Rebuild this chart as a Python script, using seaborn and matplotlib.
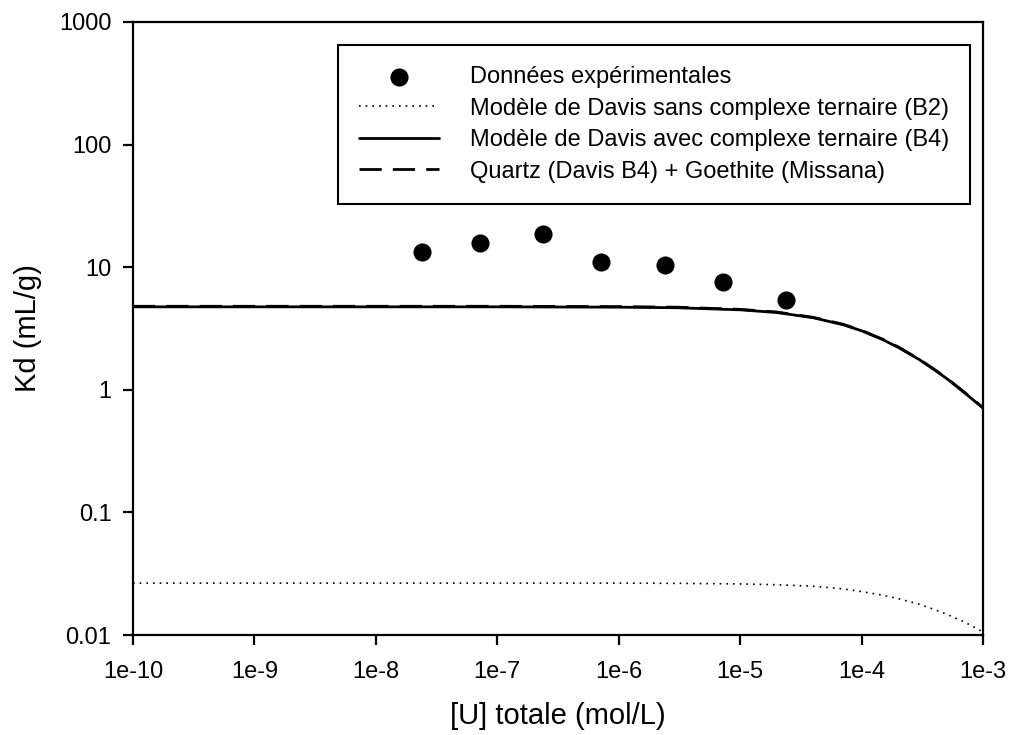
"""
Kd vs [U] totale: experimental points and surface complexation models
"""

import pandas as pd
import matplotlib.pyplot as plt
import seaborn as sns

# Experimental data
u_exp = [2.4e-8, 7.2e-8, 2.4e-7, 7.2e-7, 2.4e-6, 7.2e-6, 2.4e-5]
kd_exp = [13.3, 15.7, 18.7, 11.0, 10.4, 7.6, 5.4]

# Model curves
u_mod = [1e-10, 1e-9, 1e-8, 1e-7, 1e-6, 3e-6, 1e-5, 2e-5, 4e-5, 7e-5,
         1e-4, 1.5e-4, 2e-4, 3e-4, 4e-4, 5e-4, 7e-4, 1e-3]
kd_b2 = [0.0265, 0.0265, 0.0265, 0.0265, 0.0265, 0.0264, 0.0261, 0.0257, 0.0250, 0.0238,
         0.0226, 0.0211, 0.0198, 0.0178, 0.0161, 0.0148, 0.0128, 0.0106]
kd_b4 = [4.75, 4.75, 4.75, 4.75, 4.72, 4.67, 4.49, 4.27, 3.87, 3.40,
         3.03, 2.56, 2.22, 1.76, 1.45, 1.24, 0.95, 0.71]
kd_qg = [4.80, 4.80, 4.80, 4.80, 4.77, 4.72, 4.53, 4.31, 3.90, 3.43,
         3.05, 2.58, 2.24, 1.77, 1.46, 1.25, 0.96, 0.715]

labels = ['Données expérimentales',
          'Modèle de Davis sans complexe ternaire (B2)',
          'Modèle de Davis avec complexe ternaire (B4)',
          'Quartz (Davis B4) + Goethite (Missana)']

x_ticks = [1e-10, 1e-9, 1e-8, 1e-7, 1e-6, 1e-5, 1e-4, 1e-3]
x_ticklabels = ['1e-10', '1e-9', '1e-8', '1e-7', '1e-6', '1e-5', '1e-4', '1e-3']
y_ticks = [0.01, 0.1, 1, 10, 100, 1000]
y_ticklabels = ['0.01', '0.1', '1', '10', '100', '1000']

df_exp = pd.DataFrame({'u': u_exp, 'kd': kd_exp})
df_mod = pd.DataFrame({'u': u_mod, 'b2': kd_b2, 'b4': kd_b4, 'qg': kd_qg})

sns.set_style('ticks', {'text.color': 'black', 'axes.labelcolor': 'black',
                        'xtick.color': 'black', 'ytick.color': 'black'})
plt.rcParams['font.family'] = ['Liberation Sans', 'DejaVu Sans']

fig, ax = plt.subplots(figsize=(10.11, 7.35), dpi=100)
fig.subplots_adjust(left=133 / 1011, right=983 / 1011, top=1 - 22 / 735, bottom=1 - 635 / 735)

sns.scatterplot(data=df_exp, x='u', y='kd', ax=ax, color='black', s=170,
                edgecolor='black', linewidth=0, label=labels[0], zorder=5)
sns.lineplot(data=df_mod, x='u', y='b2', ax=ax, color='black', linewidth=1.2,
             linestyle=(0, (1, 3)), label=labels[1])
sns.lineplot(data=df_mod, x='u', y='b4', ax=ax, color='black', linewidth=2,
             label=labels[2])
sns.lineplot(data=df_mod, x='u', y='qg', ax=ax, color='black', linewidth=2,
             linestyle=(0, (8, 4)), label=labels[3])

ax.set_xscale('log')
ax.set_yscale('log')
ax.set_xlim(1e-10, 1e-3)
ax.set_ylim(0.01, 1000)
ax.set_xticks(x_ticks)
ax.set_xticklabels(x_ticklabels)
ax.set_yticks(y_ticks)
ax.set_yticklabels(y_ticklabels)
ax.minorticks_off()
ax.tick_params(axis='both', direction='out', length=7.5, width=1.6,
               labelsize=17, colors='black')
ax.tick_params(axis='x', pad=11)
ax.tick_params(axis='y', pad=8)

for side in ['top', 'right', 'bottom', 'left']:
    ax.spines[side].set_visible(True)
    ax.spines[side].set_linewidth(1.6)
    ax.spines[side].set_color('black')

ax.set_xlabel('[U] totale (mol/L)', fontsize=21, labelpad=14, color='black')
ax.set_ylabel('Kd (mL/g)', fontsize=21, labelpad=12, color='black')

leg = ax.legend(loc='upper right', bbox_to_anchor=(0.985, 0.9625), borderaxespad=0,
                fontsize=17, frameon=True, fancybox=False, edgecolor='black',
                framealpha=1, handlelength=3.4, handletextpad=1.3,
                labelspacing=0.4, borderpad=0.9, markerscale=1.0)
leg.get_frame().set_linewidth(1.5)
for t in leg.get_texts():
    t.set_color('black')

plt.savefig('out.png', dpi=100)
